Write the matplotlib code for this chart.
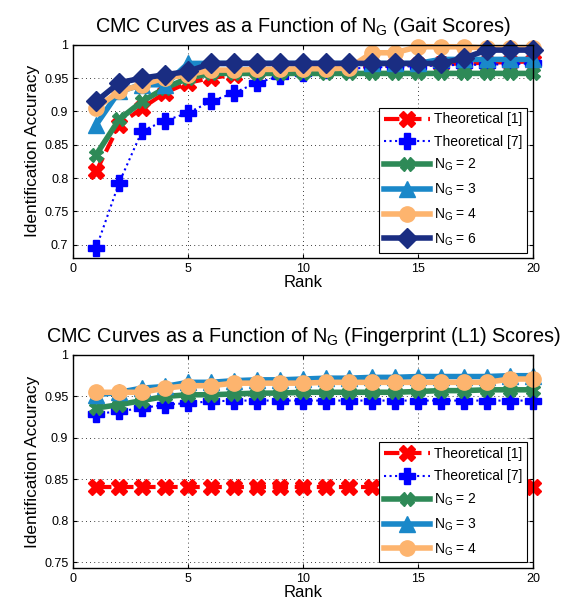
import matplotlib
matplotlib.use("Agg")
from matplotlib import pyplot as plt
from matplotlib.ticker import FormatStrFormatter

plt.rcParams['font.family'] = ['Liberation Sans', 'DejaVu Sans']

rank = list(range(1, 21))

# gait scores
gait_theo1 = [0.81, 0.88, 0.905, 0.928, 0.943, 0.95, 0.955, 0.96, 0.962, 0.964,
              0.966, 0.967, 0.968, 0.969, 0.97, 0.971, 0.972, 0.973, 0.974, 0.975]
gait_theo7 = [0.695, 0.793, 0.871, 0.886, 0.898, 0.915, 0.928, 0.943, 0.953, 0.958,
              0.962, 0.964, 0.966, 0.967, 0.968, 0.969, 0.97, 0.97, 0.971, 0.972]
gait_ng2 = [0.835, 0.888, 0.915, 0.935, 0.95, 0.957, 0.957, 0.957, 0.957, 0.957,
            0.957, 0.957, 0.957, 0.957, 0.957, 0.957, 0.957, 0.957, 0.957, 0.957]
gait_ng3 = [0.88, 0.93, 0.94, 0.94, 0.972, 0.972, 0.972, 0.972, 0.972, 0.972,
            0.972, 0.972, 0.972, 0.972, 0.972, 0.978, 0.978, 0.978, 0.978, 0.978]
gait_ng4 = [0.905, 0.93, 0.94, 0.95, 0.955, 0.962, 0.962, 0.963, 0.963, 0.964,
            0.964, 0.965, 0.988, 0.988, 0.997, 0.997, 0.997, 0.995, 0.995, 0.995]
gait_ng6 = [0.915, 0.943, 0.95, 0.955, 0.96, 0.972, 0.972, 0.972, 0.972, 0.972,
            0.972, 0.972, 0.972, 0.972, 0.972, 0.972, 0.98, 0.992, 0.992, 0.992]

# fingerprint (L1) scores
fp_theo1 = [0.841] * 20
fp_theo7 = [0.929, 0.932, 0.936, 0.94, 0.942, 0.944, 0.945, 0.945, 0.945, 0.945,
            0.945, 0.945, 0.945, 0.945, 0.945, 0.945, 0.945, 0.945, 0.945, 0.945]
fp_ng2 = [0.936, 0.94, 0.945, 0.95, 0.952, 0.952, 0.953, 0.954, 0.954, 0.955,
          0.955, 0.955, 0.955, 0.955, 0.956, 0.957, 0.957, 0.958, 0.958, 0.958]
fp_ng3 = [0.952, 0.955, 0.96, 0.962, 0.967, 0.967, 0.969, 0.97, 0.97, 0.971,
          0.972, 0.972, 0.973, 0.973, 0.974, 0.974, 0.974, 0.974, 0.975, 0.975]
fp_ng4 = [0.955, 0.955, 0.955, 0.96, 0.963, 0.963, 0.966, 0.966, 0.966, 0.966,
          0.967, 0.967, 0.967, 0.967, 0.967, 0.967, 0.967, 0.967, 0.971, 0.971]

green = '#2e8a57'
lblue = '#1a88c9'
orange = '#fdb46e'
navy = '#1a2d82'


def style_axes(ax, title, ymin, yticks):
    ax.set_xlim(0, 20)
    ax.set_ylim(ymin, 1)
    ax.set_xticks([0, 5, 10, 15, 20])
    ax.set_yticks(yticks)
    ax.yaxis.set_major_formatter(FormatStrFormatter('%g'))
    ax.grid(True, color='black', linestyle=(0, (1, 4)), linewidth=0.6)
    ax.tick_params(direction='in', top=True, right=True, labelsize=9, length=3)
    for s in ax.spines.values():
        s.set_linewidth(1.0)
    ax.set_title(title, fontsize=14.3, pad=9)
    ax.set_xlabel('Rank', fontsize=12, labelpad=0)
    ax.set_ylabel('Identification Accuracy', fontsize=12.4, labelpad=3)
    leg = ax.legend(loc='lower right', fontsize=10, fancybox=False, framealpha=1,
                    edgecolor='black', handlelength=3.3, borderpad=0.35,
                    labelspacing=0.6, handletextpad=0.3, borderaxespad=0.4)
    leg.get_frame().set_linewidth(0.8)


fig = plt.figure(figsize=(5.67, 6.13), dpi=100)
ax1 = fig.add_axes([0.129, 0.579, 0.811, 0.348])
ax2 = fig.add_axes([0.129, 0.0734, 0.811, 0.3475])

ax1.plot(rank, gait_theo1, color='red', linestyle='--', linewidth=3, marker='X',
         markersize=11, label='Theoretical [1]')
ax1.plot(rank, gait_theo7, color='blue', linestyle=':', linewidth=1.5, marker='P',
         markersize=11, label='Theoretical [7]')
ax1.plot(rank, gait_ng2, color=green, linewidth=4, marker='X', markersize=10,
         label=r'$\mathregular{N_G}$ = 2')
ax1.plot(rank, gait_ng3, color=lblue, linewidth=4, marker='^', markersize=12,
         label=r'$\mathregular{N_G}$ = 3')
ax1.plot(rank, gait_ng4, color=orange, linewidth=4, marker='o', markersize=11,
         label=r'$\mathregular{N_G}$ = 4')
ax1.plot(rank, gait_ng6, color=navy, linewidth=4, marker='D', markersize=10,
         label=r'$\mathregular{N_G}$ = 6')
style_axes(ax1, r'CMC Curves as a Function of $\mathregular{N_G}$ (Gait Scores)',
           0.68, [0.7, 0.75, 0.8, 0.85, 0.9, 0.95, 1])

ax2.plot(rank, fp_theo1, color='red', linestyle='--', linewidth=3, marker='X',
         markersize=11, label='Theoretical [1]')
ax2.plot(rank, fp_theo7, color='blue', linestyle=':', linewidth=1.5, marker='P',
         markersize=11, label='Theoretical [7]')
ax2.plot(rank, fp_ng2, color=green, linewidth=4, marker='X', markersize=10,
         label=r'$\mathregular{N_G}$ = 2')
ax2.plot(rank, fp_ng3, color=lblue, linewidth=4, marker='^', markersize=12,
         label=r'$\mathregular{N_G}$ = 3')
ax2.plot(rank, fp_ng4, color=orange, linewidth=4, marker='o', markersize=11,
         label=r'$\mathregular{N_G}$ = 4')
style_axes(ax2, r'CMC Curves as a Function of $\mathregular{N_G}$ (Fingerprint (L1) Scores)',
           0.743, [0.75, 0.8, 0.85, 0.9, 0.95, 1])

for ax in (ax1, ax2):
    for line in ax.get_lines():
        line.set_clip_on(False)

plt.savefig('out.png', dpi=100)
